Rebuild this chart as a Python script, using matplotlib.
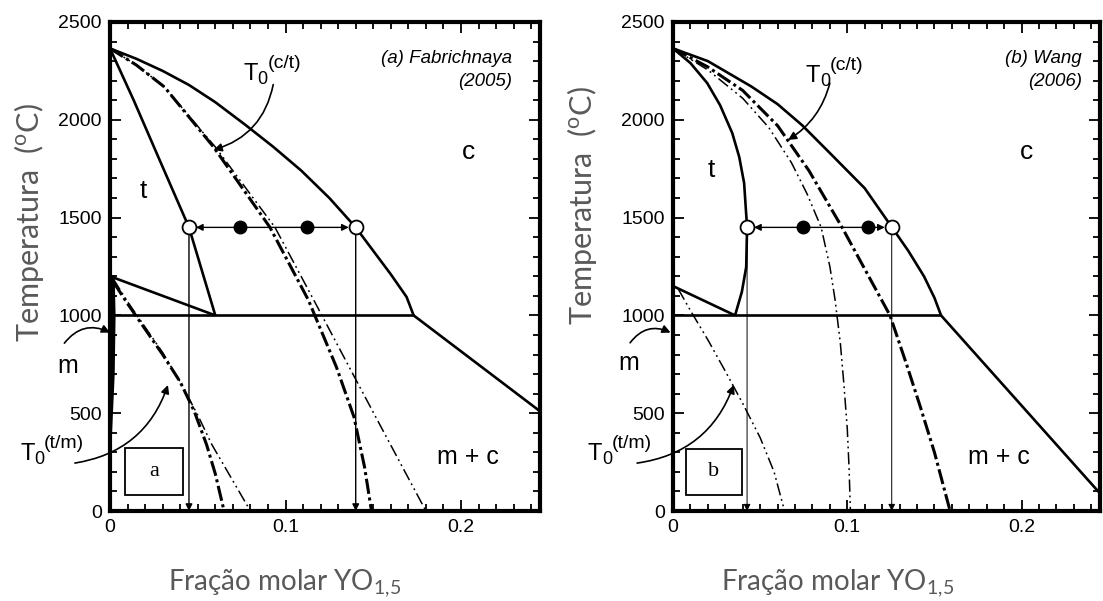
import matplotlib
matplotlib.use('Agg')
import matplotlib.pyplot as plt
from matplotlib.patches import Rectangle
from matplotlib.ticker import MultipleLocator
from matplotlib import font_manager

names = {f.name for f in font_manager.fontManager.ttflist}
TICKFONT = 'Liberation Sans Narrow' if 'Liberation Sans Narrow' in names else 'Liberation Sans'
plt.rcParams['font.family'] = ['Liberation Sans', 'DejaVu Sans']
plt.rcParams['mathtext.fontset'] = 'custom'
plt.rcParams['mathtext.rm'] = 'Lato'
plt.rcParams['mathtext.it'] = 'Lato:italic'

# ---------------- data (panel a: Fabrichnaya 2005) ----------------
a_c_x = [0.0, 0.015, 0.030, 0.045, 0.060, 0.077, 0.093, 0.109, 0.125, 0.140, 0.150, 0.160, 0.169, 0.173]
a_c_T = [2365, 2312, 2250, 2178, 2090, 1975, 1862, 1740, 1600, 1450, 1330, 1210, 1094, 1000]
a_mc_x = [0.173, 0.245]
a_mc_T = [1000, 510]
a_t_x = [0.0, 0.0135, 0.028, 0.045, 0.060]
a_t_T = [2365, 2100, 1800, 1450, 1000]
a_tm_x = [0.0, 0.060]
a_tm_T = [1200, 1000]
a_eut_x = [0.0, 0.173]
a_eut_T = [1000, 1000]
a_m_x = [0.0015, 0.002, 0.0015, 0.0]
a_m_T = [1195, 1000, 700, 400]
a_t0tm_thick_x = [0.002, 0.010, 0.020, 0.030, 0.040, 0.048, 0.055, 0.060, 0.065]
a_t0tm_thick_T = [1170, 1060, 930, 800, 660, 510, 340, 190, 0]
a_t0tm_thin_x = [0.002, 0.010, 0.020, 0.030, 0.040, 0.050, 0.058, 0.069, 0.080]
a_t0tm_thin_T = [1185, 1070, 940, 810, 660, 490, 340, 170, 0]
a_t0ct_thick_x = [0.0, 0.015, 0.031, 0.059, 0.091, 0.113, 0.129, 0.139, 0.145, 0.149]
a_t0ct_thick_T = [2365, 2280, 2168, 1861, 1452, 1079, 736, 481, 226, 0]
a_t0ct_thin_x = [0.0, 0.015, 0.031, 0.060, 0.094, 0.116, 0.139, 0.155, 0.180]
a_t0ct_thin_T = [2365, 2280, 2168, 1861, 1450, 1080, 690, 420, 0]
a_open_x = [0.045, 0.140]
a_fill_x = [0.074, 0.112]
a_T_iso = 1450

# ---------------- data (panel b: Wang 2006) ----------------
b_c_x = [0.0, 0.020, 0.045, 0.060, 0.074, 0.090, 0.110, 0.1255, 0.135, 0.144, 0.150, 0.1538]
b_c_T = [2365, 2300, 2170, 2080, 1973, 1830, 1650, 1452, 1330, 1200, 1090, 1000]
b_mc_x = [0.1538, 0.245]
b_mc_T = [1000, 90]
b_t_x = [0.0, 0.010, 0.0196, 0.027, 0.034, 0.038, 0.0408, 0.0425, 0.042, 0.0395, 0.0356]
b_t_T = [2365, 2290, 2188, 2075, 1932, 1810, 1677, 1450, 1247, 1120, 1000]
b_tm_x = [0.0, 0.0356]
b_tm_T = [1150, 1000]
b_eut_x = [0.0, 0.1538]
b_eut_T = [1000, 1000]
b_t0tm_x = [0.003, 0.010, 0.020, 0.030, 0.040, 0.050, 0.058, 0.064]
b_t0tm_T = [1135, 1025, 875, 715, 550, 375, 200, 0]
b_t0ct_thick_x = [0.0, 0.020, 0.040, 0.060, 0.078, 0.097, 0.1245, 0.134, 0.142, 0.150, 0.159]
b_t0ct_thick_T = [2365, 2270, 2150, 1970, 1740, 1450, 1000, 750, 530, 300, 0]
b_t0ct_thin_x = [0.0, 0.020, 0.040, 0.055, 0.068, 0.077, 0.085, 0.090, 0.093, 0.096, 0.098, 0.100, 0.101, 0.1018]
b_t0ct_thin_T = [2365, 2255, 2110, 1960, 1780, 1620, 1450, 1250, 1079, 860, 654, 420, 225, 0]
b_open_x = [0.0425, 0.1255]
b_fill_x = [0.0745, 0.112]
b_T_iso = 1450

xlim = (0, 0.245)
ylim = (0, 2500)
xticks = [0, 0.1, 0.2]
xticklabels = ['0', '0.1', '0.2']
yticks = [0, 500, 1000, 1500, 2000, 2500]
yticklabels = ['0', '500', '1000', '1500', '2000', '2500']

GRAY = '#595959'
W, H = 1103, 601
fig = plt.figure(figsize=(W/100, H/100), dpi=100)
axA = fig.add_axes([110/W, 90/H, 430/W, 489/H])
axB = fig.add_axes([673/W, 90/H, 427/W, 489/H])

SOLID = dict(color='k', lw=1.9, solid_capstyle='butt', solid_joinstyle='round')
THICKDD = dict(color='k', lw=2.2, linestyle=(0, (5, 1.2, 1, 1.2)))
THINDD = dict(color='k', lw=1.1, linestyle=(0, (8, 2.5, 1.2, 2.5, 1.2, 2.5)))


def style(ax):
    ax.set_xlim(*xlim)
    ax.set_ylim(*ylim)
    ax.set_xticks(xticks)
    ax.set_xticklabels(xticklabels, fontfamily=TICKFONT, fontsize=14)
    ax.set_yticks(yticks)
    ax.set_yticklabels(yticklabels, fontfamily=TICKFONT, fontsize=14)
    ax.xaxis.set_minor_locator(MultipleLocator(0.01))
    ax.yaxis.set_minor_locator(MultipleLocator(100))
    ax.tick_params(which='both', direction='in', top=True, right=True, width=1.3, pad=6)
    ax.tick_params(which='major', length=8)
    ax.tick_params(which='minor', length=5)
    for s in ax.spines.values():
        s.set_linewidth(3)


def iso(ax, xo, xf, T, lwv):
    ax.annotate('', xy=(xo[1], T), xytext=(xo[0], T),
                arrowprops=dict(arrowstyle='<|-|>', color='k', lw=1.0, shrinkA=5, shrinkB=5,
                                mutation_scale=10))
    for x in xo:
        ax.annotate('', xy=(x, 0), xytext=(x, T),
                    arrowprops=dict(arrowstyle='-|>', color='k', lw=lwv, shrinkA=4, shrinkB=0,
                                    mutation_scale=10))
    ax.plot(xf, [T]*len(xf), 'o', color='k', ms=9, zorder=5)
    ax.plot(xo, [T]*len(xo), 'o', mfc='white', mec='k', mew=1.3, ms=10, zorder=6)


def t0(ax, x, y, sup):
    kw = dict(xycoords='data', textcoords='offset points', va='baseline', ha='left',
              annotation_clip=False)
    ax.annotate('T', xy=(x, y), xytext=(0, 0), fontsize=17, **kw)
    ax.annotate('0', xy=(x, y), xytext=(10.0, -3), fontsize=13, **kw)
    ax.annotate(sup, xy=(x, y), xytext=(17.0, 8.5), fontsize=14, **kw)


def curved(ax, start, end, rad):
    ax.annotate('', xy=end, xytext=start,
                arrowprops=dict(arrowstyle='-|>', color='k', lw=1.2,
                                connectionstyle='arc3,rad=%s' % rad,
                                mutation_scale=12, shrinkA=0, shrinkB=0),
                annotation_clip=False)


# ---------- panel a ----------
ax = axA
style(ax)
ax.plot(a_c_x, a_c_T, **SOLID)
ax.plot(a_mc_x, a_mc_T, **SOLID)
ax.plot(a_t_x, a_t_T, **SOLID)
ax.plot(a_tm_x, a_tm_T, **SOLID)
ax.plot(a_eut_x, a_eut_T, **SOLID)
ax.plot(a_m_x, a_m_T, color='k', lw=3)
ax.plot(a_t0tm_thick_x, a_t0tm_thick_T, **THICKDD)
ax.plot(a_t0tm_thin_x, a_t0tm_thin_T, **THINDD)
ax.plot(a_t0ct_thick_x, a_t0ct_thick_T, **THICKDD)
ax.plot(a_t0ct_thin_x, a_t0ct_thin_T, **THINDD)
iso(ax, a_open_x, a_fill_x, a_T_iso, 1.0)
t0(ax, 0.0762, 2203, '(c/t)')
curved(ax, (0.093, 2180), (0.059, 1846), -0.3)
ax.text(0.229, 2290, '(a) Fabrichnaya', fontsize=13.5, style='italic', ha='right', va='baseline')
ax.text(0.229, 2175, '(2005)', fontsize=13.5, style='italic', ha='right', va='baseline')
ax.text(0.204, 1835, 'c', fontsize=19, ha='center', va='center')
ax.text(0.0188, 1635, 't', fontsize=19, ha='center', va='center')
ax.text(0.204, 276, 'm + c', fontsize=18, ha='center', va='center')
ax.text(-0.024, 740, 'm', fontsize=18, ha='center', va='center', clip_on=False)
curved(ax, (-0.026, 858), (0.0, 912), -0.4)
t0(ax, -0.051, 261, '(t/m)')
curved(ax, (-0.020, 245), (0.033, 644), 0.3)
ax.add_patch(Rectangle((0.0086, 82), 0.0328, 240, facecolor='white', edgecolor='k', lw=1.3, zorder=7))
ax.text(0.025, 202, 'a', fontsize=16, family='Liberation Serif', ha='center', va='center', zorder=8)

# ---------- panel b ----------
ax = axB
style(ax)
ax.plot(b_c_x, b_c_T, **SOLID)
ax.plot(b_mc_x, b_mc_T, **SOLID)
ax.plot(b_t_x, b_t_T, **SOLID)
ax.plot(b_tm_x, b_tm_T, **SOLID)
ax.plot(b_eut_x, b_eut_T, **SOLID)
ax.plot(b_t0tm_x, b_t0tm_T, **THINDD)
ax.plot(b_t0ct_thick_x, b_t0ct_thick_T, **THICKDD)
ax.plot(b_t0ct_thin_x, b_t0ct_thin_T, **THINDD)
iso(ax, b_open_x, b_fill_x, b_T_iso, 0.7)
t0(ax, 0.0763, 2193, '(c/t)')
curved(ax, (0.090, 2188), (0.066, 1897), -0.2)
ax.text(0.2347, 2290, '(b) Wang', fontsize=13.5, style='italic', ha='right', va='baseline')
ax.text(0.2347, 2175, '(2006)', fontsize=13.5, style='italic', ha='right', va='baseline')
ax.text(0.203, 1835, 'c', fontsize=19, ha='center', va='center')
ax.text(0.0218, 1745, 't', fontsize=19, ha='center', va='center')
ax.text(0.187, 276, 'm + c', fontsize=18, ha='center', va='center')
ax.text(-0.0256, 755, 'm', fontsize=18, ha='center', va='center', clip_on=False)
curved(ax, (-0.0246, 860), (-0.0014, 912), -0.4)
t0(ax, -0.0488, 261, '(t/m)')
curved(ax, (-0.0206, 245), (0.0348, 644), 0.3)
ax.add_patch(Rectangle((0.0075, 82), 0.0321, 235, facecolor='white', edgecolor='k', lw=1.3, zorder=7))
ax.text(0.0235, 200, 'b', fontsize=16, family='Liberation Serif', ha='center', va='center', zorder=8)

# ---------- gray axis labels ----------
LBL = dict(color=GRAY, family=['Lato', 'DejaVu Sans'])
ylab = r'Temperatura  ($^{\mathrm{o}}$C)'
xlab = r'Fração molar YO$_{\mathrm{1{,}5}}$'
fig.text(29/W, 1 - 223/H, ylab, rotation=90, ha='center', va='center', fontsize=22, **LBL)
fig.text(582/W, 1 - 206/H, ylab, rotation=90, ha='center', va='center', fontsize=22, **LBL)
fig.text(168/W, 1 - 590/H, xlab, ha='left', va='baseline', fontsize=20, **LBL)
fig.text(721/W, 1 - 590/H, xlab, ha='left', va='baseline', fontsize=20, **LBL)

fig.savefig('out.png', dpi=100)
